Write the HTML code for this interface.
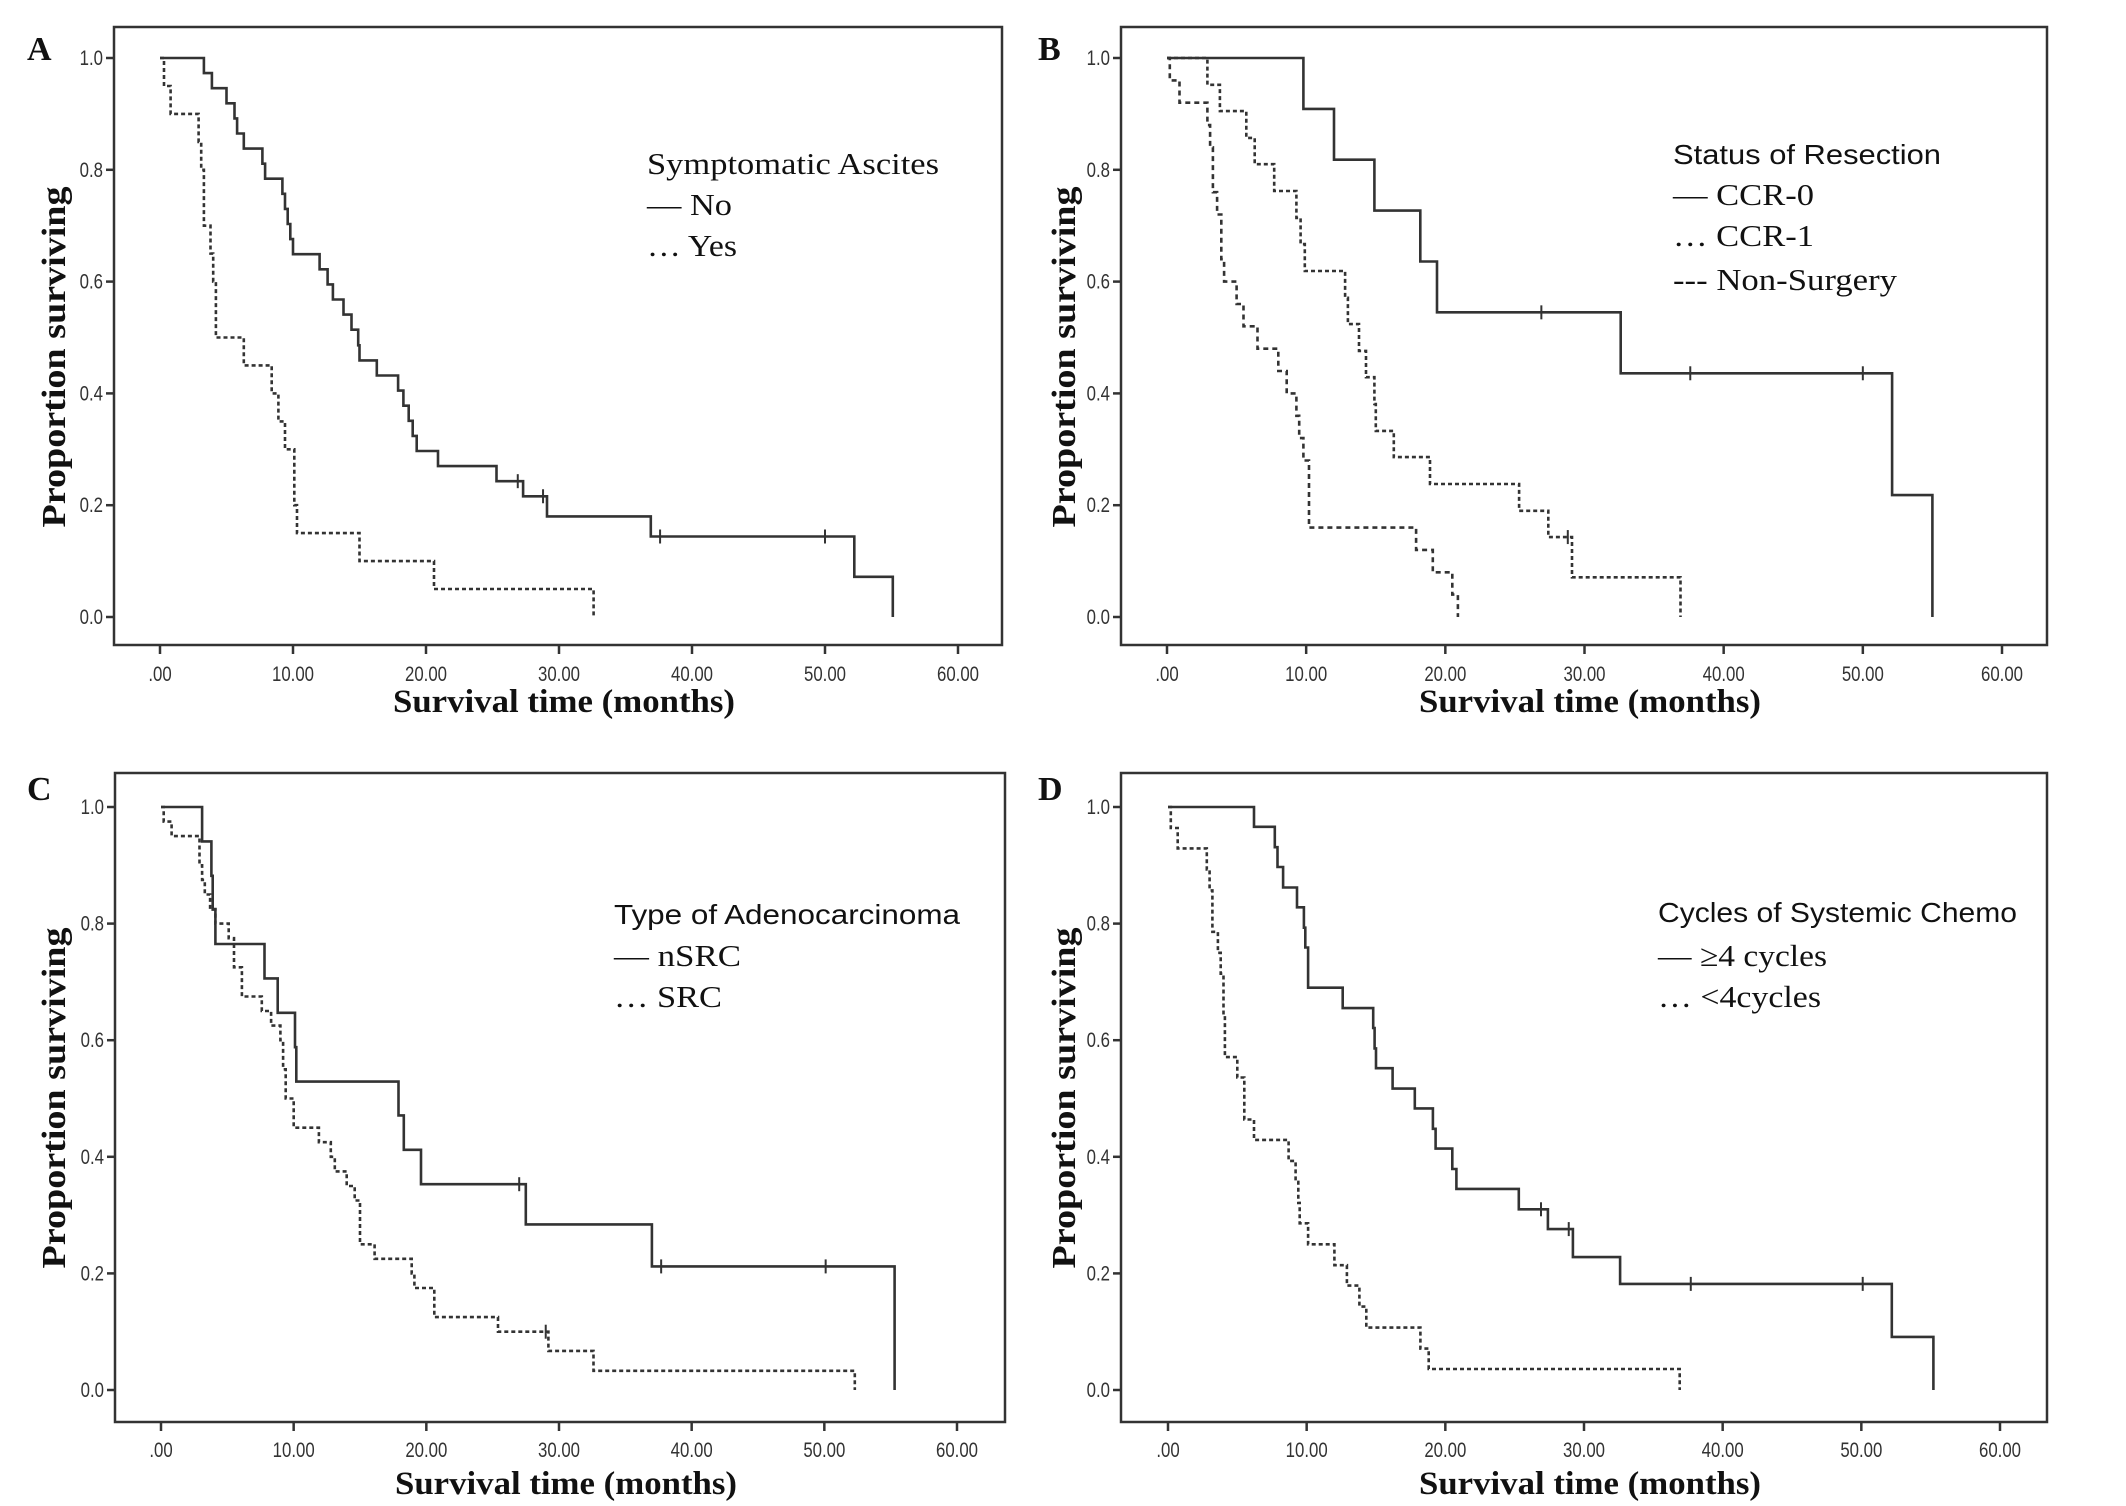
<!DOCTYPE html>
<html><head><meta charset="utf-8"><title>Kaplan-Meier survival curves</title>
<style>
html,body{margin:0;padding:0;background:#fff;}
svg{display:block;}
.tick{font-family:"Liberation Sans",sans-serif;font-size:21px;fill:#333;}
.ttl{font-family:"Liberation Serif",serif;font-weight:bold;fill:#111;}
.leg{font-family:"Liberation Serif",serif;font-size:31px;fill:#111;}
.legs{font-family:"Liberation Sans",sans-serif;font-size:28px;fill:#111;}
</style></head>
<body>
<svg id="fig" width="2126" height="1506" viewBox="0 0 2126 1506" xmlns="http://www.w3.org/2000/svg"></svg>
<script>
// ---- data (months, survival proportion after each event) ----
const xTicks = [0,10,20,30,40,50,60];
const xTickLabels = [".00","10.00","20.00","30.00","40.00","50.00","60.00"];
const yTicks = [0,0.2,0.4,0.6,0.8,1.0];
const yTickLabels = ["0.0","0.2","0.4","0.6","0.8","1.0"];

const aNoTimes = [3.3,3.9,5.0,5.6,5.8,6.3,7.7,7.9,9.2,9.4,9.6,9.8,10.0,12.0,12.6,13.0,13.8,14.4,14.9,15.0,16.3,17.9,18.3,18.7,19.0,19.3,20.9,25.3,27.3,29.1,36.9,52.2,55.1];
const aNoValues = [0.973,0.946,0.919,0.892,0.865,0.838,0.811,0.784,0.757,0.730,0.703,0.676,0.649,0.622,0.595,0.568,0.541,0.514,0.486,0.459,0.432,0.405,0.378,0.351,0.324,0.297,0.270,0.243,0.216,0.180,0.144,0.072,0.0];
const aNoCensor = [26.9,28.8,37.6,50.0];
const aYesTimes = [0.3,0.8,2.9,3.1,3.3,3.8,4.0,4.2,6.3,8.4,8.9,9.4,10.1,10.3,15.0,20.6,32.6];
const aYesValues = [0.95,0.90,0.85,0.80,0.70,0.65,0.60,0.50,0.45,0.40,0.35,0.30,0.20,0.15,0.10,0.05,0.0];

const bCcr0Times = [9.8,12.0,14.9,18.2,19.4,32.6,52.1,55.0];
const bCcr0Values = [0.909,0.818,0.727,0.636,0.545,0.436,0.218,0.0];
const bCcr0Censor = [26.9,37.6,50.0];
const bCcr1Times = [2.9,3.8,5.7,6.3,7.7,9.3,9.6,9.9,12.8,13.0,13.8,14.3,14.9,15.0,16.3,18.9,25.3,27.4,29.1,36.9];
const bCcr1Values = [0.952,0.905,0.857,0.810,0.762,0.714,0.667,0.619,0.571,0.524,0.476,0.429,0.381,0.333,0.286,0.238,0.190,0.143,0.071,0.0];
const bCcr1Censor = [28.8];
const bNonTimes = [0.2,0.9,2.9,3.1,3.3,3.6,3.9,4.1,5.0,5.5,6.5,8.0,8.6,9.3,9.5,9.8,10.2,17.9,19.1,20.5,20.9];
const bNonValues = [0.96,0.92,0.88,0.84,0.76,0.72,0.64,0.60,0.56,0.52,0.48,0.44,0.40,0.36,0.32,0.28,0.16,0.12,0.08,0.04,0.0];

const cNsrcTimes = [3.1,3.8,3.9,4.1,7.8,8.8,10.1,10.2,17.9,18.3,19.6,27.5,37.0,55.3];
const cNsrcValues = [0.941,0.882,0.824,0.765,0.706,0.647,0.588,0.529,0.471,0.412,0.353,0.284,0.212,0.0];
const cNsrcCensor = [27.0,37.7,50.1];
const cSrcTimes = [0.2,0.8,2.9,3.1,3.3,3.7,4.1,5.1,5.5,6.1,7.6,8.3,9.0,9.2,9.4,10.0,11.9,12.8,13.1,14.0,14.6,15.0,16.1,18.9,19.1,20.6,25.4,29.2,32.6,52.3];
const cSrcValues = [0.975,0.95,0.90,0.875,0.85,0.825,0.80,0.775,0.725,0.675,0.65,0.625,0.60,0.55,0.50,0.45,0.425,0.40,0.375,0.35,0.325,0.25,0.225,0.20,0.175,0.125,0.10,0.067,0.033,0.0];
const cSrcCensor = [29.0];

const dHiTimes = [6.2,7.7,7.9,8.3,9.3,9.8,9.9,10.1,12.6,14.8,14.9,15.0,16.2,17.8,19.1,19.3,20.5,20.8,25.3,27.4,29.2,32.6,52.2,55.2];
const dHiValues = [0.966,0.931,0.897,0.862,0.828,0.793,0.759,0.690,0.655,0.621,0.586,0.552,0.517,0.483,0.448,0.414,0.379,0.345,0.310,0.276,0.228,0.182,0.091,0.0];
const dHiCensor = [26.9,28.9,37.7,50.1];
const dLoTimes = [0.2,0.7,2.8,3.0,3.2,3.6,3.8,4.0,4.1,5.0,5.5,6.2,8.7,9.2,9.4,9.5,10.1,12.0,12.9,13.8,14.3,18.2,18.8,36.9];
const dLoValues = [0.964,0.929,0.893,0.857,0.786,0.75,0.714,0.643,0.571,0.536,0.464,0.429,0.393,0.357,0.321,0.286,0.25,0.214,0.179,0.143,0.107,0.071,0.036,0.0];

// ---- layout ----
const panels = [
 {id:"a",letter:"A",lx:27,ly:60,box:[114,27,1002,645],x0:160,x60:958,y1:58,y0:617,tickY:681,titleY:712,ytitleX:53,ytitleY:357,
  legX:647,legY:[174,215,256],legHead:["Symptomatic Ascites","leg",292],
  items:[["— No",85],["… Yes",90]],
  series:[{n:"no",t:aNoTimes,v:aNoValues,c:aNoCensor,dash:null},{n:"yes",t:aYesTimes,v:aYesValues,c:[],dash:"4 3"}]},
 {id:"b",letter:"B",lx:1038,ly:60,box:[1121,27,2047,645],x0:1167,x60:2002,y1:58,y0:617,tickY:681,titleY:712,ytitleX:1063,ytitleY:357,
  legX:1673,legY:[164,205,246,290],legHead:["Status of Resection","legs",268],
  items:[["— CCR-0",141],["… CCR-1",141],["--- Non-Surgery",224]],
  series:[{n:"ccr-0",t:bCcr0Times,v:bCcr0Values,c:bCcr0Censor,dash:null},{n:"ccr-1",t:bCcr1Times,v:bCcr1Values,c:bCcr1Censor,dash:"4 3"},{n:"non-surgery",t:bNonTimes,v:bNonValues,c:[],dash:"5 4"}]},
 {id:"c",letter:"C",lx:27,ly:800,box:[115,773,1005,1422],x0:161,x60:957,y1:807,y0:1390,tickY:1457,titleY:1494,ytitleX:53,ytitleY:1098,
  legX:614,legY:[924,966,1007],legHead:["Type of Adenocarcinoma","legs",346],
  items:[["— nSRC",127],["… SRC",108]],
  series:[{n:"nsrc",t:cNsrcTimes,v:cNsrcValues,c:cNsrcCensor,dash:null},{n:"src",t:cSrcTimes,v:cSrcValues,c:cSrcCensor,dash:"4 3"}]},
 {id:"d",letter:"D",lx:1038,ly:800,box:[1121,773,2047,1422],x0:1168,x60:2000,y1:807,y0:1390,tickY:1457,titleY:1494,ytitleX:1063,ytitleY:1098,
  legX:1658,legY:[922,966,1007],legHead:["Cycles of Systemic Chemo","legs",359],
  items:[["— ≥4 cycles",169],["… <4cycles",163]],
  series:[{n:"ge4-cycles",t:dHiTimes,v:dHiValues,c:dHiCensor,dash:null},{n:"lt4-cycles",t:dLoTimes,v:dLoValues,c:[],dash:"4 3"}]}
];

const NS="http://www.w3.org/2000/svg";
const svg=document.getElementById("fig");
function mk(tag,attrs,parent,text){
  const e=document.createElementNS(NS,tag);
  for(const k in attrs) e.setAttribute(k,attrs[k]);
  if(text!==undefined) e.textContent=text;
  (parent||svg).appendChild(e);
  return e;
}
function stepVal(times,vals,t){let v=1;for(let i=0;i<times.length;i++){if(times[i]<=t)v=vals[i];}return v;}

panels.forEach(p=>{
  const xs=t=>p.x0+(p.x60-p.x0)*t/60;
  const ys=v=>p.y0+(p.y1-p.y0)*v;
  const g=mk("g",{});
  
  

  const L=mk("text",{x:p.lx,y:p.ly,class:"ttl","font-size":"34"},g,p.letter);
  
  

  const [bx1,by1,bx2,by2]=p.box;
  const box=mk("rect",{x:bx1,y:by1,width:bx2-bx1,height:by2-by1,fill:"none",stroke:"#333","stroke-width":"2.5"},g);
  
  

  const xa=mk("g",{},g);
  
  
  xTicks.forEach((t,i)=>{
    mk("line",{x1:xs(t),x2:xs(t),y1:by2,y2:by2+9,stroke:"#333","stroke-width":"2.5"},xa);
    const tl=mk("text",{x:xs(t),y:p.tickY,class:"tick","text-anchor":"middle",transform:`translate(${xs(t)},0) scale(0.8,1) translate(${-xs(t)},0)`},xa,xTickLabels[i]);
    
    
  });
  const ya=mk("g",{},g);
  
  
  yTicks.forEach((v,i)=>{
    mk("line",{x1:bx1-8,x2:bx1,y1:ys(v),y2:ys(v),stroke:"#333","stroke-width":"2.5"},ya);
    const tl=mk("text",{x:bx1-11,y:ys(v)+7,class:"tick","text-anchor":"end",transform:`translate(${bx1-11},0) scale(0.8,1) translate(${-(bx1-11)},0)`},ya,yTickLabels[i]);
    
    
  });

  const xt=mk("text",{x:(bx1+bx2)/2+6,y:p.titleY,class:"ttl","font-size":"33","text-anchor":"middle",textLength:"342",lengthAdjust:"spacingAndGlyphs"},g,"Survival time (months)");
  
  
  const yt=mk("text",{x:0,y:0,class:"ttl","font-size":"34","text-anchor":"middle",textLength:"341",lengthAdjust:"spacingAndGlyphs",transform:`translate(${p.ytitleX+12},${p.ytitleY}) rotate(-90)`},g,"Proportion surviving");
  
  

  p.series.forEach(s=>{
    let d=`M${xs(0)},${ys(1)}`;
    s.t.forEach((t,i)=>{ d+=` H${xs(t).toFixed(1)} V${ys(s.v[i]).toFixed(1)}`; });
    const path=mk("path",{d:d,fill:"none",stroke:"#333","stroke-width":"2.6"},g);
    if(s.dash) path.setAttribute("stroke-dasharray",s.dash);
    
    
    s.c.forEach(ct=>{
      const v=stepVal(s.t,s.v,ct);
      const cm=mk("line",{x1:xs(ct),x2:xs(ct),y1:ys(v)-7,y2:ys(v)+7,stroke:"#333","stroke-width":"2"},g);
      
      
    });
  });

  const lg=mk("g",{},g);
  
  
  const h=mk("text",{x:p.legX,y:p.legY[0],class:p.legHead[1],textLength:p.legHead[2],lengthAdjust:"spacingAndGlyphs"},lg,p.legHead[0]);
  
  
  p.items.forEach((it,i)=>{
    const e=mk("text",{x:p.legX,y:p.legY[i+1],class:"leg",textLength:it[1],lengthAdjust:"spacingAndGlyphs"},lg,it[0]);
    
    
  });
});
</script>
</body></html>
